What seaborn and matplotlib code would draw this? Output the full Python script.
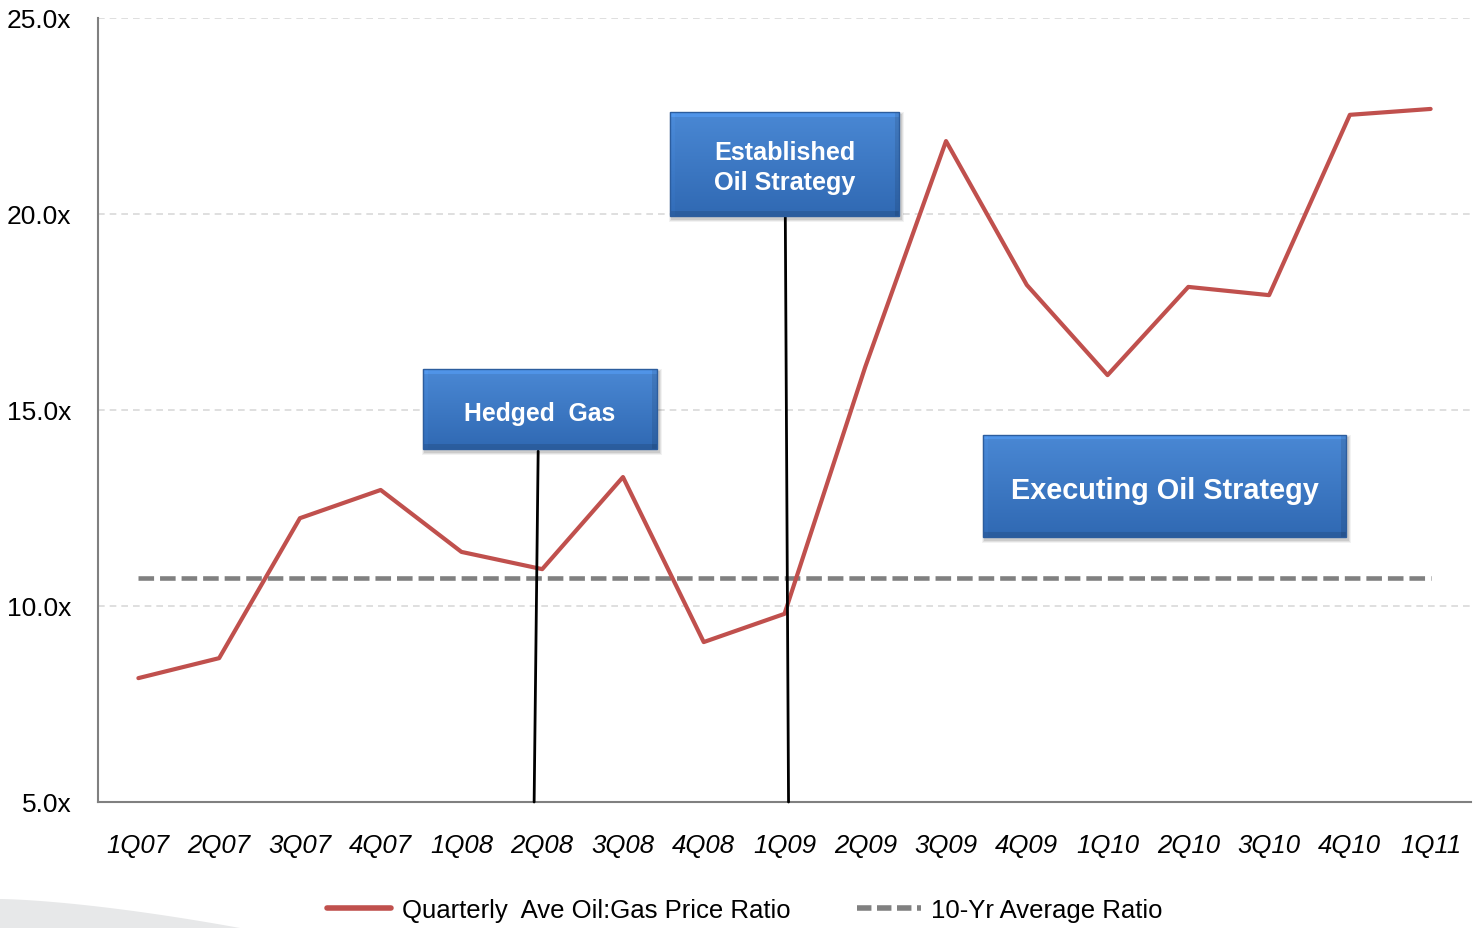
import numpy as np
import pandas as pd
import matplotlib
matplotlib.use("Agg")
import matplotlib.pyplot as plt
import seaborn as sns
from matplotlib.patches import Rectangle, Polygon
from matplotlib.lines import Line2D

quarters = ["1Q07", "2Q07", "3Q07", "4Q07", "1Q08", "2Q08", "3Q08", "4Q08", "1Q09",
            "2Q09", "3Q09", "4Q09", "1Q10", "2Q10", "3Q10", "4Q10", "1Q11"]
ratio = [8.16, 8.67, 12.24, 12.96, 11.38, 10.94, 13.29, 9.08, 9.80,
         16.10, 21.86, 18.19, 15.89, 18.14, 17.93, 22.53, 22.68]
avg_ratio = 10.71
y_ticks = [5.0, 10.0, 15.0, 20.0, 25.0]
series_names = ["Quarterly  Ave Oil:Gas Price Ratio", "10-Yr Average Ratio"]
box_labels = ["Hedged  Gas", "Established\nOil Strategy", "Executing Oil Strategy"]

sns.set_style("white")
plt.rcParams["font.family"] = ["Liberation Sans", "DejaVu Sans"]
plt.rcParams["text.color"] = "black"

df = pd.DataFrame({"idx": np.arange(len(quarters)), "ratio": ratio,
                   "avg": [avg_ratio] * len(quarters)})

W, H = 1479, 929
fig = plt.figure(figsize=(W / 100, H / 100), dpi=100)
ax = fig.add_axes([98 / W, 1 - 803 / H, (1471 - 98) / W, (803 - 19) / H])

red = "#C0504D"
grey = "#808080"

sns.lineplot(data=df, x="idx", y="avg", ax=ax, color=grey, linewidth=3.3,
             zorder=3, legend=False)
ax.lines[-1].set_dashes((3.4, 1.3))
sns.lineplot(data=df, x="idx", y="ratio", ax=ax, color=red, linewidth=3.0,
             zorder=4, legend=False)

ax.set_xlim(-0.5, len(quarters) - 0.5)
ax.set_ylim(5, 25)
ax.set_yticks(y_ticks)
ax.set_yticklabels([f"{v:.1f}x" for v in y_ticks], fontsize=19)
ax.set_xticks(np.arange(len(quarters)))
ax.set_xticklabels(quarters, fontsize=18.5, style="italic")
ax.set_xticks(np.arange(-0.5, len(quarters)), minor=True)
ax.tick_params(axis="x", which="major", length=0, pad=22, labelcolor="black")
ax.tick_params(axis="x", which="minor", length=7, width=1.3, color=grey, direction="out")
ax.tick_params(axis="y", which="major", length=7, width=1.3, color=grey, direction="out",
               pad=12, labelcolor="black")
ax.set_xlabel("")
ax.set_ylabel("")
for s in ["top", "right"]:
    ax.spines[s].set_visible(False)
for s in ["left", "bottom"]:
    ax.spines[s].set_color(grey)
    ax.spines[s].set_linewidth(1.5)
ax.yaxis.grid(True, color="#D9D9D9", linestyle=(0, (4, 3)), linewidth=1.2)
ax.set_axisbelow(True)

# callout connector lines (data coords)
ax.plot([4.95, 4.90], [13.95, 5.0], color="black", lw=2.0, zorder=6, clip_on=False)
ax.plot([8.01, 8.05], [19.92, 5.0], color="black", lw=2.0, zorder=6, clip_on=False)

# boxes
def make_box(px0, py0, px1, py1, text, fs, ty=0.45, ls=1.15):
    w, h = px1 - px0, py1 - py0
    # soft shadow
    for k, a in [(6, 0.05), (4, 0.07), (2, 0.09)]:
        fig.patches.append(Rectangle(((px0 + 2 - k / 2) / W, 1 - (py1 + 3 + k / 2) / H),
                                     (w + k) / W, (h + k) / H,
                                     transform=fig.transFigure, facecolor="#000000",
                                     alpha=a, edgecolor="none", zorder=8))
    bax = fig.add_axes([px0 / W, 1 - py1 / H, w / W, h / H], zorder=10)
    top = np.array([0x4A, 0x88, 0xD4]) / 255
    bot = np.array([0x30, 0x69, 0xB3]) / 255
    t = np.linspace(0, 1, h)[:, None, None]
    img = top * (1 - t) + bot * t
    img = np.repeat(img, w, axis=1)
    b = 5
    img[:b, :, :] = np.clip(img[:b, :, :] * 1.10, 0, 1)
    img[-b:, :, :] = img[-b:, :, :] * 0.88
    img[:, :b, :] = np.clip(img[:, :b, :] * 1.03, 0, 1)
    img[:, -b:, :] = img[:, -b:, :] * 0.90
    bax.imshow(img, aspect="auto", interpolation="bilinear")
    bax.axis("off")
    fig.patches.append(Rectangle((px0 / W, 1 - py1 / H), w / W, h / H,
                                 transform=fig.transFigure, facecolor="none",
                                 edgecolor="#2C5D9E", lw=1.0, zorder=11))
    bax.text(0.5, ty, text, transform=bax.transAxes, ha="center", va="center",
             color="white", fontsize=fs, fontweight="bold", linespacing=ls)

make_box(423, 370, 657, 450, box_labels[0], 17.8, ty=0.45)
make_box(670, 113, 899, 217, box_labels[1], 18.2, ty=0.47, ls=1.35)
make_box(983, 436, 1346, 538, box_labels[2], 20.8, ty=0.46)

# decorative swoosh bottom-left
xs = np.linspace(0, 240, 50)
ys = 900 + (xs / 240) ** 1.5 * 29
pts = [(x / W, 1 - y / H) for x, y in zip(xs, ys)] + [(0, 0)]
fig.patches.append(Polygon(pts, closed=True, transform=fig.transFigure,
                           facecolor="#E7E8E9", edgecolor="none", zorder=0))

handles = [Line2D([], [], color=red, lw=4.0),
           Line2D([], [], color=grey, lw=4.0, dashes=(2.6, 1.0))]
leg = fig.legend(handles, series_names, loc="center", bbox_to_anchor=(745 / W, 1 - 911 / H),
                 ncol=2, frameon=False, fontsize=18.5, handlelength=2.5,
                 columnspacing=2.6, handletextpad=0.4)
for t in leg.get_texts():
    t.set_color("black")

fig.savefig("out.png", dpi=100)
